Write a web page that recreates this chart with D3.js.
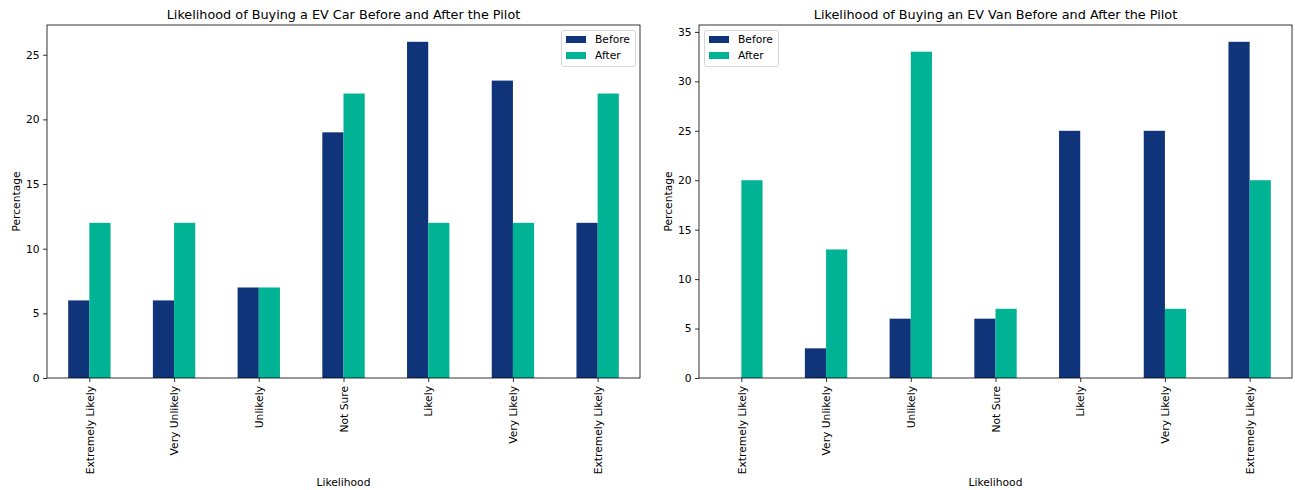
<!DOCTYPE html>
<html>
<head>
<meta charset="utf-8">
<script src="https://cdn.jsdelivr.net/npm/d3@7"></script>
<style>
  html, body { margin: 0; padding: 0; background: #fff; }
  svg { display: block; font-family: "DejaVu Sans", sans-serif; }
</style>
</head>
<body>
<svg id="chart" width="1295" height="490"></svg>
<script>
// Likelihood categories (as labelled on the x axis)
const categories = ["Extremely Likely", "Very Unlikely", "Unlikely", "Not Sure", "Likely", "Very Likely", "Extremely Likely"];
const seriesNames = ["Before", "After"];

// EV car survey (percentage)
const carBefore = [6, 6, 7, 19, 26, 23, 12];
const carAfter  = [12, 12, 7, 22, 12, 12, 22];

// EV van survey (percentage)
const vanBefore = [0, 3, 6, 6, 25, 25, 34];
const vanAfter  = [20, 13, 33, 7, 0, 7, 20];

const carTicks = [0, 5, 10, 15, 20, 25];
const vanTicks = [0, 5, 10, 15, 20, 25, 30, 35];

const colors = { Before: "#10347a", After: "#00b394" };
const fontSmall = 10.7;
const fontTitle = 12.8;

const svg = d3.select("#chart");

function drawPanel(opts) {
  const { left, right, top, bottom, title, before, after, ticks, legendSide } = opts;
  const g = svg.append("g");
  const idx = d3.range(categories.length);

  // continuous x over category index, spanning -0.5 .. n-0.5
  const x = d3.scaleLinear().domain([-0.5, categories.length - 0.5]).range([left, right]);
  const yMax = d3.max(before.concat(after)) * 1.05;
  const y = d3.scaleLinear().domain([0, yMax]).range([bottom, top]);
  const barW = 0.25;

  const series = [
    { name: "Before", values: before, offset: -barW },
    { name: "After",  values: after,  offset: 0 }
  ];

  series.forEach(s => {
    g.append("g").selectAll("rect")
      .data(idx)
      .join("rect")
      .attr("x", i => x(i + s.offset))
      .attr("width", x(barW) - x(0))
      .attr("y", i => y(s.values[i]))
      .attr("height", i => y(0) - y(s.values[i]))
      .attr("fill", colors[s.name]);
  });

  // y axis
  const yAxis = d3.axisLeft(y).tickValues(ticks).tickSize(4).tickPadding(3.5);
  const ya = g.append("g").attr("transform", `translate(${left},0)`).call(yAxis);
  ya.select(".domain").remove();
  ya.selectAll("line").attr("stroke", "#000").attr("stroke-width", 0.8);
  ya.selectAll("text").attr("font-size", fontSmall).attr("fill", "#000").attr("font-family", "DejaVu Sans");

  // x axis with rotated labels
  const xAxis = d3.axisBottom(x).tickValues(idx).tickFormat(i => categories[i]).tickSize(4).tickPadding(3.5);
  const xa = g.append("g").attr("transform", `translate(0,${bottom})`).call(xAxis);
  xa.select(".domain").remove();
  xa.selectAll("line").attr("stroke", "#000").attr("stroke-width", 0.8);
  xa.selectAll("text")
    .attr("font-size", fontSmall).attr("fill", "#000").attr("font-family", "DejaVu Sans")
    .attr("transform", "rotate(-90)")
    .attr("text-anchor", "end")
    .attr("x", -8)
    .attr("y", 0)
    .attr("dy", "0.35em");

  // frame
  g.append("rect")
    .attr("x", left).attr("y", top)
    .attr("width", right - left).attr("height", bottom - top)
    .attr("fill", "none").attr("stroke", "#000").attr("stroke-width", 0.8);

  // title
  g.append("text")
    .attr("x", (left + right) / 2).attr("y", top - 6.5)
    .attr("text-anchor", "middle").attr("font-size", fontTitle).attr("fill", "#000")
    .text(title);

  // axis labels
  g.append("text")
    .attr("x", (left + right) / 2).attr("y", 486)
    .attr("text-anchor", "middle").attr("font-size", fontSmall).attr("fill", "#000")
    .text("Likelihood");
  g.append("text")
    .attr("transform", `translate(${left - 27.5},${(top + bottom) / 2}) rotate(-90)`)
    .attr("text-anchor", "middle").attr("font-size", fontSmall).attr("fill", "#000")
    .text("Percentage");

  // legend
  const legW = 74, legH = 36;
  const lx = legendSide === "right" ? right - 5 - legW : left + 5;
  const ly = top + 5;
  const leg = g.append("g").attr("transform", `translate(${lx},${ly})`);
  leg.append("rect")
    .attr("x", 0.5).attr("y", 0.5).attr("width", legW).attr("height", legH)
    .attr("rx", 2).attr("fill", "#fff").attr("fill-opacity", 0.8)
    .attr("stroke", "#d6d6d6").attr("stroke-width", 1);
  seriesNames.forEach((n, k) => {
    const cy = 9.5 + k * 16;
    leg.append("rect").attr("x", 5).attr("y", cy - 3.5).attr("width", 20).attr("height", 7).attr("fill", colors[n]);
    leg.append("text").attr("x", 34).attr("y", cy).attr("dy", "0.35em")
      .attr("font-size", fontSmall).attr("fill", "#000").text(n);
  });
}

drawPanel({
  left: 47, right: 640, top: 25, bottom: 378,
  title: "Likelihood of Buying a EV Car Before and After the Pilot",
  before: carBefore, after: carAfter, ticks: carTicks, legendSide: "right"
});

drawPanel({
  left: 699, right: 1292, top: 25, bottom: 378,
  title: "Likelihood of Buying an EV Van Before and After the Pilot",
  before: vanBefore, after: vanAfter, ticks: vanTicks, legendSide: "left"
});
</script>
</body>
</html>
